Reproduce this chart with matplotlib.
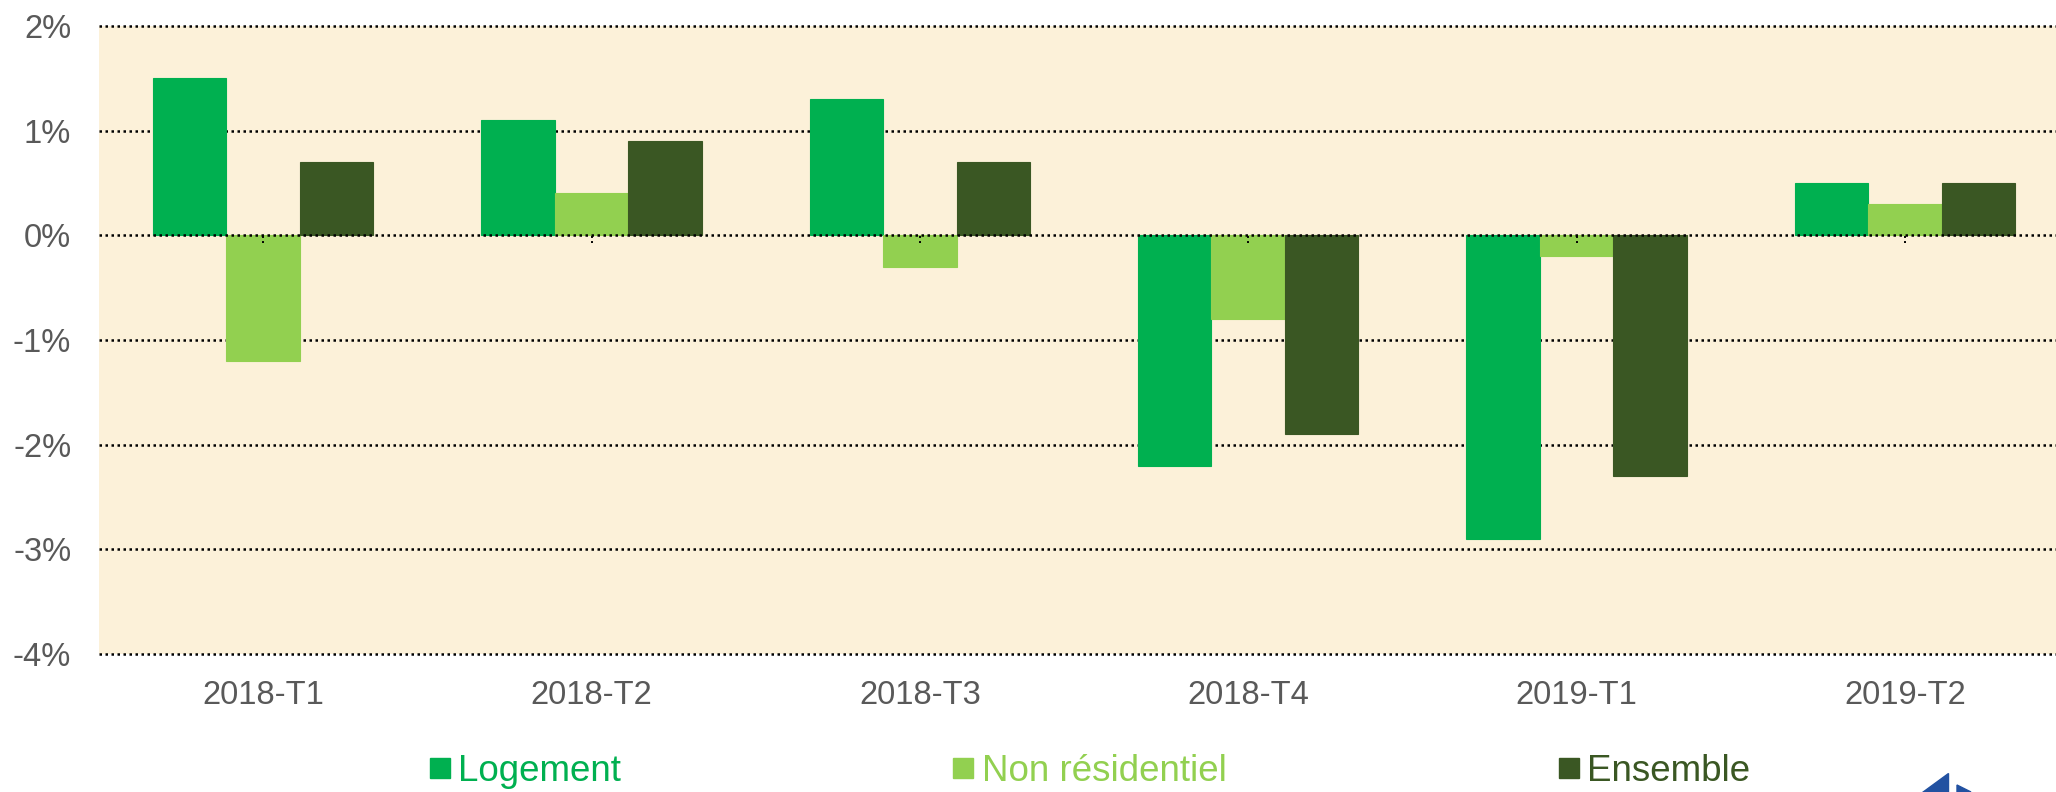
import numpy as np
import matplotlib
matplotlib.use("Agg")
import matplotlib.pyplot as plt
from matplotlib.lines import Line2D
from matplotlib.patches import Polygon

plt.rcParams["font.family"] = ["Liberation Sans", "DejaVu Sans"]

# Quarterly change (%) by segment
quarters = ["2018-T1", "2018-T2", "2018-T3", "2018-T4", "2019-T1", "2019-T2"]
logement = [1.5, 1.1, 1.3, -2.2, -2.9, 0.5]
non_residentiel = [-1.2, 0.4, -0.3, -0.8, -0.2, 0.3]
ensemble = [0.7, 0.9, 0.7, -1.9, -2.3, 0.5]

series_names = ["Logement", "Non résidentiel", "Ensemble"]
colors = ["#00B050", "#92D050", "#3A5723"]
yticks = [-4, -3, -2, -1, 0, 1, 2]

fig = plt.figure(figsize=(20.56, 7.92), dpi=100)
# plot area runs slightly past the right edge of the picture
ax = fig.add_axes([99 / 2056, 1 - 654 / 792, 1970 / 2056, (654 - 26) / 792])
ax.set_facecolor("#FCF1D9")

x = np.arange(len(quarters))
w = 0.224
for i, (vals, name, col) in enumerate(zip([logement, non_residentiel, ensemble], series_names, colors)):
    ax.bar(x + (i - 1) * w, vals, width=w, color=col, label=name, zorder=2,
           edgecolor=col, linewidth=0.8)

# dotted horizontal grid
for yv in yticks:
    ax.axhline(yv, color="black", linestyle=(0, (1, 1.4)), linewidth=1.8,
               zorder=1 if yv != 0 else 3, clip_on=False)
# little tick marks at the zero line
ax.vlines(x, -0.07, 0, colors="black", linestyles=(0, (1, 1.6)), linewidth=1.4, zorder=3)

ax.set_xlim(-0.5, len(quarters) - 0.5)
ax.set_ylim(-4, 2)
ax.set_yticks(yticks)
ax.set_yticklabels([f"{v}%" for v in yticks])
ax.set_xticks(x)
ax.set_xticklabels(quarters)
ax.tick_params(axis="y", length=0, pad=20, labelsize=23.5, labelcolor="#595959")
ax.tick_params(axis="x", length=0, pad=19, labelsize=23.5, labelcolor="#595959")
for s in ax.spines.values():
    s.set_visible(False)

handles = [Line2D([], [], marker="s", linestyle="", markersize=14,
                  markerfacecolor=c, markeredgecolor=c) for c in colors]
leg = fig.legend(handles, series_names, loc="center", bbox_to_anchor=(0.53, 0.026),
                 ncol=3, frameon=False, fontsize=26.5, handlelength=0.6,
                 handletextpad=0.2, columnspacing=9.0)
for t, c in zip(leg.get_texts(), colors):
    t.set_color(c)

# logo corner (partially cut off)
fig.patches.append(Polygon([[1922 / 2056, 0], [1948 / 2056, 0], [1948 / 2056, 19 / 792]],
                           closed=True, transform=fig.transFigure, color="#2251A1"))
fig.patches.append(Polygon([[1957 / 2056, 0], [1971 / 2056, 0], [1957 / 2056, 7 / 792]],
                           closed=True, transform=fig.transFigure, color="#2251A1"))

fig.savefig("out.png", dpi=100)
